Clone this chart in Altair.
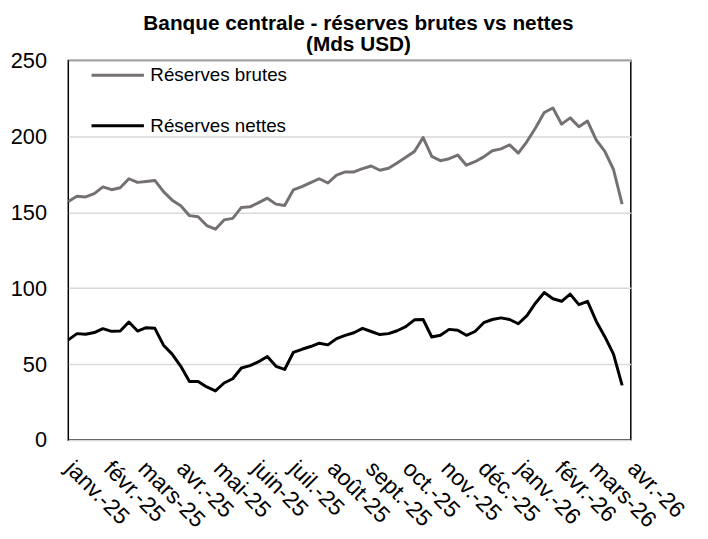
import altair as alt
import pandas as pd

start_date = "2025-01-01"
series = ["Réserves brutes", "Réserves nettes"]
colors = ["#767171", "#000000"]
months = ["janv.", "févr.", "mars", "avr.", "mai", "juin", "juil.", "août",
          "sept.", "oct.", "nov.", "déc."]
y_ticks = [0, 50, 100, 150, 200, 250]

brutes = [157.1, 160.6, 160.1, 162.3, 166.7, 164.9, 166.2, 172.1, 169.7, 170.3,
          171.0, 163.6, 158.0, 154.3, 147.8, 147.1, 141.3, 138.9, 145.0, 146.0,
          153.2, 153.6, 156.4, 159.3, 155.4, 154.5, 164.7, 166.9, 169.5, 172.1,
          169.3, 174.5, 176.6, 176.6, 178.8, 180.5, 177.7, 179.0, 182.5, 186.2,
          190.1, 199.2, 186.8, 184.0, 185.3, 187.7, 181.0, 183.3, 186.5, 190.5,
          191.8, 194.4, 189.0, 196.6, 205.7, 215.7, 218.7, 208.1, 212.2, 206.4,
          210.1, 197.7, 190.1, 178.2, 155.4]

nettes = [66.0, 70.1, 69.7, 70.8, 73.4, 71.6, 71.8, 77.7, 71.8, 74.0,
          73.6, 62.5, 56.6, 48.6, 38.6, 38.6, 35.0, 32.4, 37.6, 40.4,
          47.5, 49.0, 51.6, 55.0, 48.6, 46.5, 57.7, 59.8, 61.6, 63.8,
          62.7, 66.8, 69.0, 70.7, 73.6, 71.5, 69.5, 70.1, 72.0, 74.7,
          79.2, 79.4, 67.9, 69.0, 72.9, 72.3, 69.0, 71.5, 77.3, 79.4,
          80.5, 79.4, 76.6, 82.0, 90.3, 97.2, 93.1, 91.4, 96.1, 89.2,
          91.4, 78.3, 68.1, 56.6, 36.0]

n = len(brutes)
dates = pd.date_range(start_date, periods=n, freq="7D").strftime("%Y-%m-%d").tolist()

df = pd.DataFrame({
    "date": dates + dates,
    "serie": [series[0]] * n + [series[1]] * n,
    "value": brutes + nettes,
})

tick_dates = [alt.DateTime(year=2025 + m // 12, month=m % 12 + 1, date=1, utc=True)
              for m in range(16)]
month_arr = "[" + ",".join("'" + m + "'" for m in months) + "]"
label_expr = month_arr + "[utcmonth(datum.value)] + '-' + utcFormat(datum.value, '%y')"

FONT = "Liberation Sans"

chart = alt.Chart(df).mark_line(strokeWidth=3, strokeJoin="round").encode(
    x=alt.X(
        "date:T",
        scale=alt.Scale(
            type="utc",
            domain=[alt.DateTime(year=2025, month=1, date=1, utc=True),
                    alt.DateTime(year=2026, month=4, date=1, utc=True)],
        ),
        axis=alt.Axis(
            values=tick_dates, labelExpr=label_expr, labelAngle=45,
            labelAlign="left", labelBaseline="top", labelPadding=17,
            labelOffset=8,
            ticks=False, domain=False, grid=False, labelFontSize=23,
            labelFont=FONT, labelColor="#000000", title=None,
            labelOverlap=False, labelBound=False, labelFlush=False,
        ),
    ),
    y=alt.Y(
        "value:Q",
        scale=alt.Scale(domain=[0, 250], nice=False),
        axis=alt.Axis(
            values=y_ticks, ticks=False, domain=False, labelFontSize=22,
            labelFont=FONT, labelColor="#000000", labelPadding=22,
            gridColor="#d9d9d9", gridWidth=1.5, title=None,
        ),
    ),
    color=alt.Color(
        "serie:N",
        scale=alt.Scale(domain=series, range=colors),
        legend=alt.Legend(
            title=None, orient="none", legendX=22, legendY=-13,
            symbolType="stroke", symbolSize=2809, symbolStrokeWidth=3,
            labelFontSize=19, labelFont=FONT, labelColor="#000000",
            rowPadding=13, labelOffset=5, padding=0,
        ),
    ),
).properties(
    width=569,
    height=384,
    autosize="none",
    padding={"left": 61, "top": 50, "right": 70, "bottom": 97},
    title=alt.TitleParams(
        text=["Banque centrale - réserves brutes vs nettes", "(Mds USD)"],
        font=FONT, fontSize=21, fontWeight="bold", color="#000000",
        anchor="middle", dx=9, offset=-7, lineHeight=21,
    ),
).configure_view(stroke="#000000", strokeWidth=1.5)

chart.save("out.html", embed_options={"renderer": "svg", "actions": False})
